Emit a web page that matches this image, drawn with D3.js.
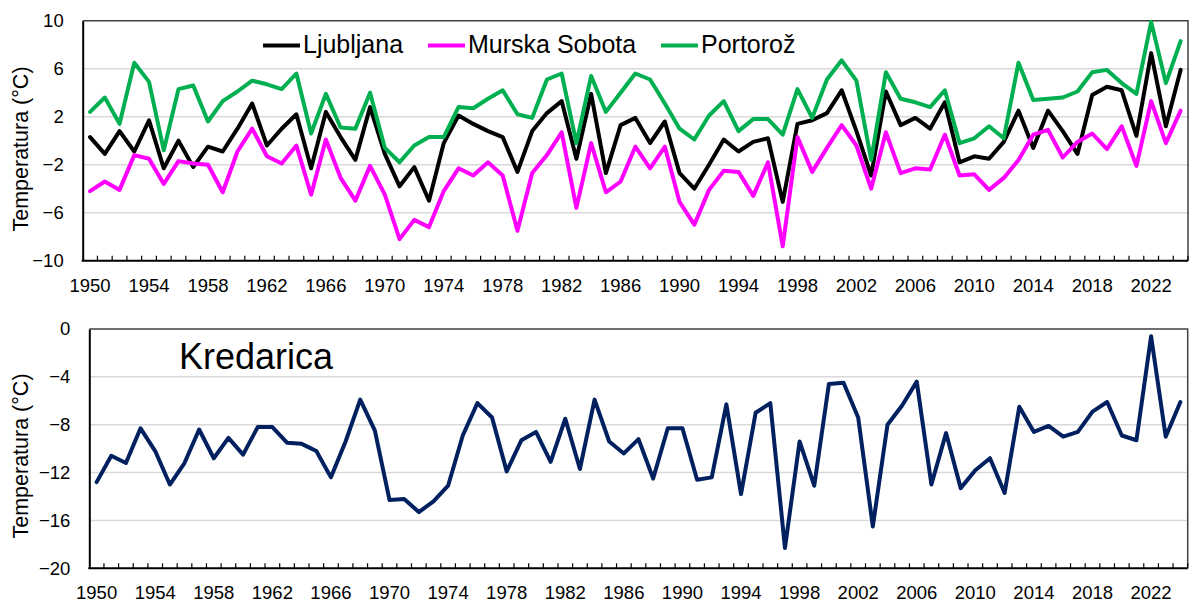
<!DOCTYPE html>
<html>
<head>
<meta charset="utf-8">
<script src="https://cdn.jsdelivr.net/npm/d3@7"></script>
<style>
  body { margin: 0; background: #fff; }
  text { font-family: "Liberation Sans", Arial, sans-serif; }
</style>
</head>
<body>
<div id="wrapper"></div>
<script>
const years = d3.range(1950, 2025)
const labelYears = [1950, 1954, 1958, 1962, 1966, 1970, 1974, 1978, 1982, 1986, 1990, 1994, 1998, 2002, 2006, 2010, 2014, 2018, 2022]

const ljubljana = [0.3, -1.1, 0.8, -0.9, 1.7, -2.3, 0.0, -2.2, -0.5, -0.9, 1.0, 3.1, -0.4, 1.0, 2.2, -2.3, 2.4, 0.3, -1.6, 2.8,
    -1.1, -3.8, -2.2, -5.0, -0.2, 2.1, 1.4, 0.8, 0.3, -2.6, 0.8, 2.3, 3.3, -1.5, 3.9, -2.7, 1.3, 1.9, -0.2, 1.6,
    -2.7, -4.0, -2.0, 0.1, -0.9, -0.1, 0.2, -5.1, 1.4, 1.7, 2.3, 4.2, 0.8, -2.9, 4.1, 1.3, 1.9, 1.0, 3.2, -1.8,
    -1.3, -1.5, -0.1, 2.5, -0.6, 2.5, 0.8, -1.1, 3.8, 4.5, 4.2, 0.4, 7.3, 1.2, 5.9]
const murskaSobota = [-4.2, -3.4, -4.1, -1.2, -1.5, -3.6, -1.7, -1.9, -2.0, -4.3, -0.9, 1.0, -1.3, -1.9, -0.4, -4.5, 0.1, -3.1, -5.0, -2.1,
    -4.5, -8.2, -6.6, -7.2, -4.2, -2.3, -2.9, -1.8, -2.9, -7.5, -2.7, -1.2, 0.7, -5.6, -0.2, -4.3, -3.4, -0.5, -2.3, -0.5,
    -5.1, -7.0, -4.1, -2.5, -2.6, -4.6, -1.8, -8.8, 0.3, -2.6, -0.6, 1.3, -0.4, -4.0, 0.7, -2.7, -2.3, -2.4, 0.5, -2.9,
    -2.8, -4.1, -3.1, -1.6, 0.5, 0.9, -1.4, -0.1, 0.6, -0.7, 1.2, -2.1, 3.3, -0.2, 2.5]
const portoroz = [2.4, 3.6, 1.4, 6.5, 4.9, -0.8, 4.3, 4.6, 1.6, 3.3, 4.1, 5.0, 4.7, 4.3, 5.6, 0.6, 3.9, 1.1, 1.0, 4.0,
    -0.6, -1.8, -0.4, 0.3, 0.3, 2.8, 2.7, 3.5, 4.2, 2.2, 1.9, 5.1, 5.6, -0.2, 5.4, 2.4, 4.0, 5.6, 5.1, 3.1,
    1.0, 0.1, 2.1, 3.3, 0.8, 1.8, 1.8, 0.5, 4.3, 1.9, 5.1, 6.7, 5.0, -1.6, 5.7, 3.5, 3.2, 2.8, 4.2, -0.2,
    0.2, 1.2, 0.2, 6.5, 3.4, 3.5, 3.6, 4.1, 5.7, 5.9, 4.8, 3.9, 9.9, 4.8, 8.3]
const kredarica = [-12.8, -10.6, -11.2, -8.3, -10.2, -13.0, -11.2, -8.4, -10.8, -9.1, -10.5, -8.2, -8.2, -9.5, -9.6, -10.2, -12.4, -9.4, -5.9, -8.5,
    -14.3, -14.2, -15.3, -14.4, -13.1, -8.9, -6.2, -7.4, -11.9, -9.3, -8.6, -11.1, -7.5, -11.7, -5.9, -9.4, -10.4, -9.2, -12.5, -8.3,
    -8.3, -12.6, -12.4, -6.3, -13.8, -7.0, -6.2, -18.3, -9.4, -13.1, -4.6, -4.5, -7.4, -16.5, -8.0, -6.4, -4.4, -13.0, -8.7, -13.3,
    -11.8, -10.8, -13.7, -6.5, -8.6, -8.1, -9.0, -8.6, -6.9, -6.1, -8.9, -9.3, -0.6, -9.0, -6.1]

const topTicks = [10, 6, 2, -2, -6, -10]
const bottomTicks = [0, -4, -8, -12, -16, -20]

const topSeries = [
    { name: 'Ljubljana', values: ljubljana, color: '#000000' },
    { name: 'Murska Sobota', values: murskaSobota, color: '#ff00ff' },
    { name: 'Portorož', values: portoroz, color: '#00b050' },
]
const bottomSeries = [
    { name: 'Kredarica', values: kredarica, color: '#002060' },
]

const width = 1192
const height = 603

const wrapper = d3.select('#wrapper')
    .append('svg')
    .attr('width', width)
    .attr('height', height)
    .style('background-color', '#ffffff')

const drawPanel = (panel) => {
    const { left, right, top, bottom, domain, ticks, series, titleY } = panel

    const scaleX = d3.scaleBand()
        .domain(years)
        .range([left, right])
        .padding(0)
    const scaleY = d3.scaleLinear()
        .domain(domain)
        .range([bottom, top])

    const g = wrapper.append('g')

    // gridlines
    g.append('g').selectAll('line')
        .data(ticks.filter(t => t !== domain[0] && t !== domain[1]))
        .join('line')
        .attr('x1', left)
        .attr('x2', right)
        .attr('y1', d => scaleY(d))
        .attr('y2', d => scaleY(d))
        .attr('stroke', '#d9d9d9')
        .attr('stroke-width', 1.5)

    // top and right border
    g.append('path')
        .attr('d', `M${left},${top}H${right}V${bottom}`)
        .attr('fill', 'none')
        .attr('stroke', '#404040')
        .attr('stroke-width', 1.5)

    // y axis
    const yAxis = g.append('g')
        .attr('transform', `translate(${left}, 0)`)
        .call(d3.axisLeft(scaleY).tickValues(ticks).tickSize(0).tickPadding(19))
    yAxis.select('.domain').attr('stroke', '#000').attr('stroke-width', 2)
    yAxis.selectAll('text')
        .style('font-size', '18.5px')
        .style('font-family', '"Liberation Sans", Arial, sans-serif')
        .attr('fill', '#000')

    // x axis, ticks between the categories
    const boundaries = years.slice(1).map(y => scaleX(y)).concat([right])
    g.append('g').selectAll('line')
        .data(boundaries)
        .join('line')
        .attr('x1', d => d)
        .attr('x2', d => d)
        .attr('y1', bottom)
        .attr('y2', bottom - 5)
        .attr('stroke', '#000')
        .attr('stroke-width', 1.2)
    g.append('line')
        .attr('x1', left - 1)
        .attr('x2', right)
        .attr('y1', bottom)
        .attr('y2', bottom)
        .attr('stroke', '#000')
        .attr('stroke-width', 2)
    g.append('g').selectAll('text')
        .data(labelYears)
        .join('text')
        .text(d => d)
        .attr('x', d => scaleX(d) + scaleX.bandwidth() / 2)
        .attr('y', bottom + 31)
        .attr('text-anchor', 'middle')
        .style('font-size', '18.5px')
        .attr('fill', '#000')

    // series
    const line = d3.line()
        .x((d, i) => scaleX(years[i]) + scaleX.bandwidth() / 2)
        .y(d => scaleY(d))
    g.append('g').selectAll('path')
        .data(series)
        .join('path')
        .attr('d', d => line(d.values))
        .attr('fill', 'none')
        .attr('stroke', d => d.color)
        .attr('stroke-width', 4)
        .attr('stroke-linejoin', 'round')
        .attr('stroke-linecap', 'round')

    // y title
    g.append('text')
        .text('Temperatura (°C)')
        .attr('transform', `translate(28, ${titleY}) rotate(-90)`)
        .attr('text-anchor', 'middle')
        .style('font-size', '21.5px')
        .attr('fill', '#000')

    return { scaleX, scaleY, g }
}

const topPanel = drawPanel({
    left: 82.7, right: 1188, top: 20.7, bottom: 260.7,
    domain: [-10, 10], ticks: topTicks, series: topSeries, titleY: 149,
})
const bottomPanel = drawPanel({
    left: 89.3, right: 1187.7, top: 329, bottom: 568.3,
    domain: [-20, 0], ticks: bottomTicks, series: bottomSeries, titleY: 456,
})

// legend for the top panel
const legendItems = [
    { series: topSeries[0], x: 263 },
    { series: topSeries[1], x: 428 },
    { series: topSeries[2], x: 661 },
]
const legend = wrapper.append('g').selectAll('g')
    .data(legendItems)
    .join('g')
    .attr('transform', d => `translate(${d.x}, 45.5)`)
legend.append('line')
    .attr('x1', 0)
    .attr('x2', 37)
    .attr('stroke', d => d.series.color)
    .attr('stroke-width', 4)
legend.append('text')
    .text(d => d.series.name)
    .attr('x', 40)
    .attr('y', 7)
    .style('font-size', '25px')
    .attr('fill', '#000')

// station label for the bottom panel
wrapper.append('text')
    .text(bottomSeries[0].name)
    .attr('x', 179)
    .attr('y', 369)
    .style('font-size', '36px')
    .attr('fill', '#000')
</script>
</body>
</html>
